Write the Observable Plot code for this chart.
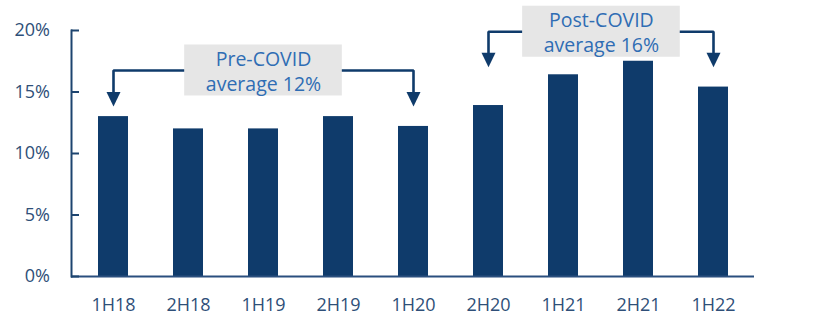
<!DOCTYPE html>
<html>
<head>
<meta charset="utf-8">
<script src="https://cdn.jsdelivr.net/npm/d3@7"></script>
<script src="https://cdn.jsdelivr.net/npm/@observablehq/plot@0.6"></script>
<style>
  html, body { margin: 0; padding: 0; background: #ffffff; }
  #chart { width: 838px; height: 316px; }
</style>
</head>
<body>
<div id="chart"></div>
<script>
// ---- data ----
const periods = ["1H18", "2H18", "1H19", "2H19", "1H20", "2H20", "1H21", "2H21", "1H22"];
const shares = [13.0, 12.0, 12.0, 13.0, 12.2, 13.9, 16.4, 17.5, 15.4];
const yTicks = [0, 5, 10, 15, 20];
const yTickLabels = ["0%", "5%", "10%", "15%", "20%"];

// annotations (value units)
const noteLabels = ["Pre-COVID\naverage 12%", "Post-COVID\naverage 16%"];
const noteFrom = ["1H18", "2H20"];
const noteTo = ["1H20", "1H22"];
const noteCenter = ["1H19", "1H21"];
const noteShift = [0, 0.5];        // in band steps
const noteLevel = [16.75, 19.9];   // connector level (%)
const noteArrowEnd = [15.0, 18.2]; // where arrow head starts (%)

// ---- layout ----
const W = 838, H = 316;
const mL = 71, mR = 84, mT = 30, mB = 40;
const padInner = 0.6, padOuter = 0.3;
const step = (W - mL - mR) / (periods.length - padInner + 2 * padOuter);
const bandW = step * (1 - padInner);

const navy = "#0f3b6b";
const axisText = "#2f4f78";
const noteText = "#2f6db4";
const boxFill = "#e6e6e6";
const boxW = 158, boxH = 51;

const rows = periods.map((p, i) => ({period: p, value: shares[i]}));

const arrowHead = {
  draw(ctx) {
    ctx.moveTo(-7, 0);
    ctx.lineTo(7, 0);
    ctx.lineTo(0, 14.5);
    ctx.closePath();
  }
};

const noteMarks = [];
noteLabels.forEach((label, i) => {
  const path = [
    {x: noteFrom[i], y: noteArrowEnd[i]},
    {x: noteFrom[i], y: noteLevel[i]},
    {x: noteTo[i], y: noteLevel[i]},
    {x: noteTo[i], y: noteArrowEnd[i]}
  ];
  noteMarks.push(
    Plot.line(path, {x: "x", y: "y", stroke: navy, strokeWidth: 2.6, strokeLinejoin: "miter", curve: "linear"}),
    Plot.dot([path[0], path[3]], {x: "x", y: "y", symbol: arrowHead, fill: navy, stroke: "none"}),
    Plot.barY([i], {
      x: () => noteCenter[i], y1: () => noteLevel[i], y2: () => noteLevel[i],
      fill: boxFill,
      insetLeft: -(boxW - bandW) / 2, insetRight: -(boxW - bandW) / 2,
      insetTop: -boxH / 2, insetBottom: -boxH / 2,
      dx: noteShift[i] * step
    }),
    Plot.text([i], {
      x: () => noteCenter[i], y: () => noteLevel[i], text: () => label,
      fill: noteText, fontSize: 19.5, lineHeight: 1.28,
      dx: noteShift[i] * step, dy: 0
    })
  );
});

const chart = Plot.plot({
  width: W,
  height: H,
  marginLeft: mL,
  marginRight: mR,
  marginTop: mT,
  marginBottom: mB,
  style: {fontFamily: "'Open Sans', sans-serif", background: "#ffffff"},
  x: {type: "band", domain: periods, paddingInner: padInner, paddingOuter: padOuter, label: null},
  y: {domain: [0, 20], label: null},
  marks: [
    Plot.barY(rows, {x: "period", y: "value", fill: navy}),
    Plot.ruleY([0], {stroke: "#2a4f7e", strokeWidth: 2}),
    Plot.frame({anchor: "left", stroke: "#1d446f", strokeWidth: 2}),
    Plot.axisY({
      ticks: yTicks, tickFormat: (d) => yTickLabels[yTicks.indexOf(d)],
      tickSize: -8, tickPadding: 29.5, stroke: "#1d446f", strokeWidth: 2,
      fill: axisText, fontSize: 18, label: null
    }),
    Plot.axisX({tickSize: 0, tickPadding: 22, fill: axisText, fontSize: 18, label: null}),
    ...noteMarks
  ]
});

document.getElementById("chart").appendChild(chart);
</script>
</body>
</html>
